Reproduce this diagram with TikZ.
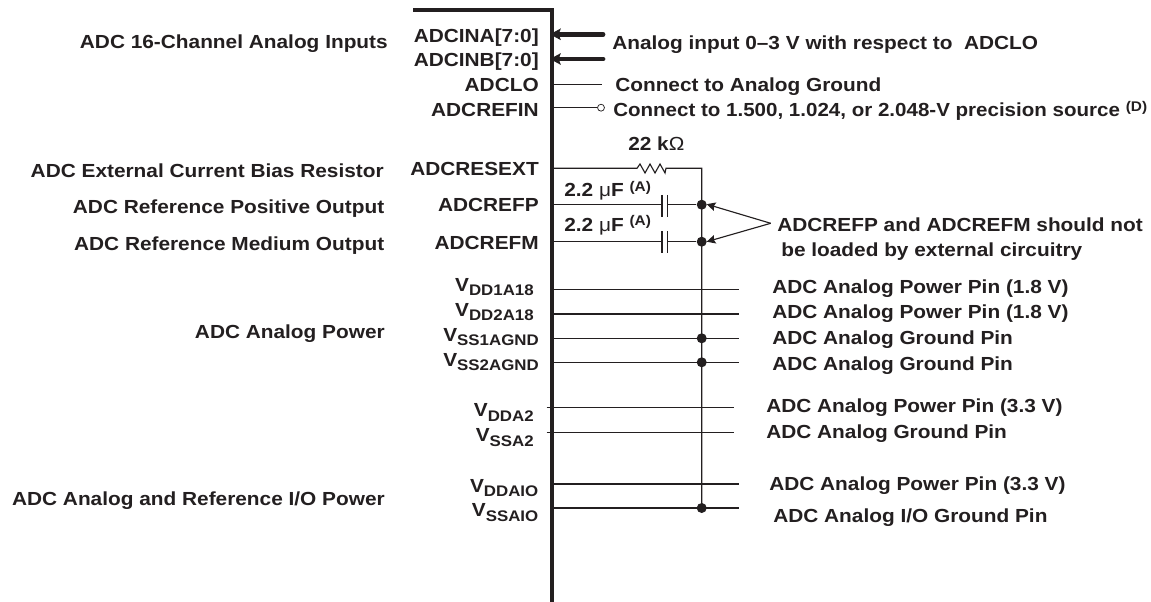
\documentclass[tikz,border=0pt]{standalone}
\usepackage{fontspec}
\usepackage{graphicx}
\setmainfont[FakeStretch=1.1]{Liberation Sans}
\usetikzlibrary{arrows.meta}
\definecolor{ink}{HTML}{231F20}
\newcommand{\lab}{\fontsize{14.2}{16}\selectfont\bfseries}
\newcommand{\Vs}[1]{V\raisebox{-3.6pt}{\fontsize{11.5}{12}\selectfont #1}}
\newcommand{\Sup}[1]{\raisebox{3.8pt}{\fontsize{10.5}{12}\selectfont #1}}
\tikzset{x=0.75pt,y=-0.75pt,
 txtl/.style={anchor=base west,inner sep=0pt,font=\lab,text=ink},
 txtr/.style={anchor=base east,inner sep=0pt,font=\lab,text=ink},
 wire/.style={line width=0.85pt,ink},
 thinwire/.style={line width=0.5pt,ink},
 dot/.style={circle,fill=ink,inner sep=0pt,minimum size=7.5pt},
 bus/.style={line width=3.6pt,ink,line cap=round},
 bushead/.style={-{Stealth[length=8pt,width=8.5pt,inset=1.5pt]}},
 callhead/.style={-{Stealth[length=6.5pt,width=6.5pt,inset=1pt]}}}
\begin{document}
\begin{tikzpicture}
\useasboundingbox (0,0) rectangle (1151,602);
\fill[white] (0,0) rectangle (1151,602);
% body
\coordinate (bodyA) at (413,10.5);
\coordinate (bodyB) at (552,10.5);
\coordinate (bodyC) at (552,602);
\draw[line width=3pt,ink,line join=miter] (bodyA) -- (bodyB) -- (bodyC);
% left labels
\node[txtr] (l1) at (388,48.5) {ADC 16-Channel Analog Inputs};
\node[txtr] (l2) at (384,177.5) {ADC External Current Bias Resistor};
\node[txtr] (l3) at (384.5,214) {ADC Reference Positive Output};
\node[txtr] (l4) at (384.5,250) {ADC Reference Medium Output};
\node[txtr] (l5) at (385,338) {ADC Analog Power};
\node[txtr] (l6) at (385,505) {ADC Analog and Reference I/O Power};
% pin names
\node[txtr] (p1) at (539,43) {ADCINA[7:0]};
\node[txtr] (p2) at (539,67) {ADCINB[7:0]};
\node[txtr] (p3) at (539,91.5) {ADCLO};
\node[txtr] (p4) at (539,116.5) {ADCREFIN};
\node[txtr] (p5) at (539,176) {ADCRESEXT};
\node[txtr] (p6) at (539,212) {ADCREFP};
\node[txtr] (p7) at (539,249) {ADCREFM};
\node[txtr] (p8) at (534,291) {\Vs{DD1A18}};
\node[txtr] (p9) at (534,316) {\Vs{DD2A18}};
\node[txtr] (p10) at (539,341) {\Vs{SS1AGND}};
\node[txtr] (p11) at (539,366) {\Vs{SS2AGND}};
\node[txtr] (p12) at (534,416.5) {\Vs{DDA2}};
\node[txtr] (p13) at (534,441.5) {\Vs{SSA2}};
\node[txtr] (p14) at (538.5,492) {\Vs{DDAIO}};
\node[txtr] (p15) at (538.5,516.5) {\Vs{SSAIO}};
% right labels
\node[txtl] (r1) at (612,49.5) {Analog input 0–3 V with respect to\ \ ADCLO};
\node[txtl] (r2) at (615,91.5) {Connect to Analog Ground};
\node[txtl] (r3) at (613,116.5) {\scalebox{0.986}[1]{Connect to 1.500, 1.024, or 2.048-V precision source} \Sup{(D)}};
\node[txtl] (r4) at (777,231) {ADCREFP and ADCREFM should not};
\node[txtl] (r5) at (781,256.5) {be loaded by external circuitry};
\node[txtl] (r6) at (772,293) {ADC Analog Power Pin (1.8 V)};
\node[txtl] (r7) at (772,318) {ADC Analog Power Pin (1.8 V)};
\node[txtl] (r8) at (772,344) {ADC Analog Ground Pin};
\node[txtl] (r9) at (772,370) {ADC Analog Ground Pin};
\node[txtl] (r10) at (766,412) {ADC Analog Power Pin (3.3 V)};
\node[txtl] (r11) at (766,438) {ADC Analog Ground Pin};
\node[txtl] (r12) at (769,490) {ADC Analog Power Pin (3.3 V)};
\node[txtl] (r13) at (773,522) {ADC Analog I/O Ground Pin};
\node[txtl] (v1) at (628,150.5) {22 k{\mdseries Ω}};
\node[txtl] (c1) at (564,196.5) {2.2 {\mdseries μ}F \Sup{(A)}};
\node[txtl] (c2) at (564,231) {2.2 {\mdseries μ}F \Sup{(A)}};
% inputs
\coordinate (a0) at (603,34.3); \coordinate (a1) at (550,34.3);
\coordinate (b0) at (603,59); \coordinate (b1) at (550,59);
\draw[bus,bushead] (a0) -- (a1);
\draw[bus,bushead] (b0) -- (b1);
\coordinate (lo0) at (552,84); \coordinate (lo1) at (601.5,84);
\draw[thinwire] (lo0) -- (lo1);
\coordinate (ri0) at (552,107.7);
\node[circle,draw=ink,line width=0.55pt,fill=white,inner sep=0pt,minimum size=5.2pt] (ring) at (601,107.7) {};
\draw[wire] (ri0) -- (ring);
% resistor and rail
\coordinate (rs0) at (552,168.3);
\coordinate (rs1) at (637,168.3);
\coordinate (rs2) at (666,168.3);
\coordinate (rail0) at (701.7,168.3);
\coordinate (rail1) at (701.7,508);
\draw[wire,line join=miter] (rs0) -- (rs1) -- (640,164) -- (645,173) -- (650,164) -- (655,173) -- (660,164) -- (665,173) -- (rs2) -- (rail0) -- (rail1);
% caps
\node[dot] (d1) at (701.7,204.7) {};
\node[dot] (d2) at (701.7,241.7) {};
\coordinate (cp1) at (552,204.7); \coordinate (cp2) at (662,204.7); \coordinate (cp3) at (667.7,204.7);
\coordinate (cm1) at (552,241.7); \coordinate (cm2) at (662,241.7); \coordinate (cm3) at (667.7,241.7);
\draw[wire] (cp1) -- (cp2) (cp3) -- (d1) (cm1) -- (cm2) (cm3) -- (d2);
\draw[wire] (662,195) -- (662,216.7) (667.7,195) -- (667.7,216.7) (662,231) -- (662,253) (667.7,231) -- (667.7,253);
% callout arrows
\coordinate (tip) at (770.7,223.3);
\coordinate (t1) at (706.7,204.2);
\coordinate (t2) at (706.7,241.7);
\draw[wire,callhead] (tip) -- (t1);
\draw[wire,callhead] (tip) -- (t2);
% lines
\foreach \y/\xa/\xb in {289.3/552/739,314/552/739,338.3/552/739,362.3/552/739,407.7/546.7/734,432.7/546.7/733.5,484/552/739,508/552/739}{
 \draw[wire] (\xa,\y) -- (\xb,\y);}
\node[dot] (d3) at (701.7,338.3) {};
\node[dot] (d4) at (701.7,362.3) {};
\node[dot] (d5) at (701.7,508) {};
\end{tikzpicture}
\end{document}
